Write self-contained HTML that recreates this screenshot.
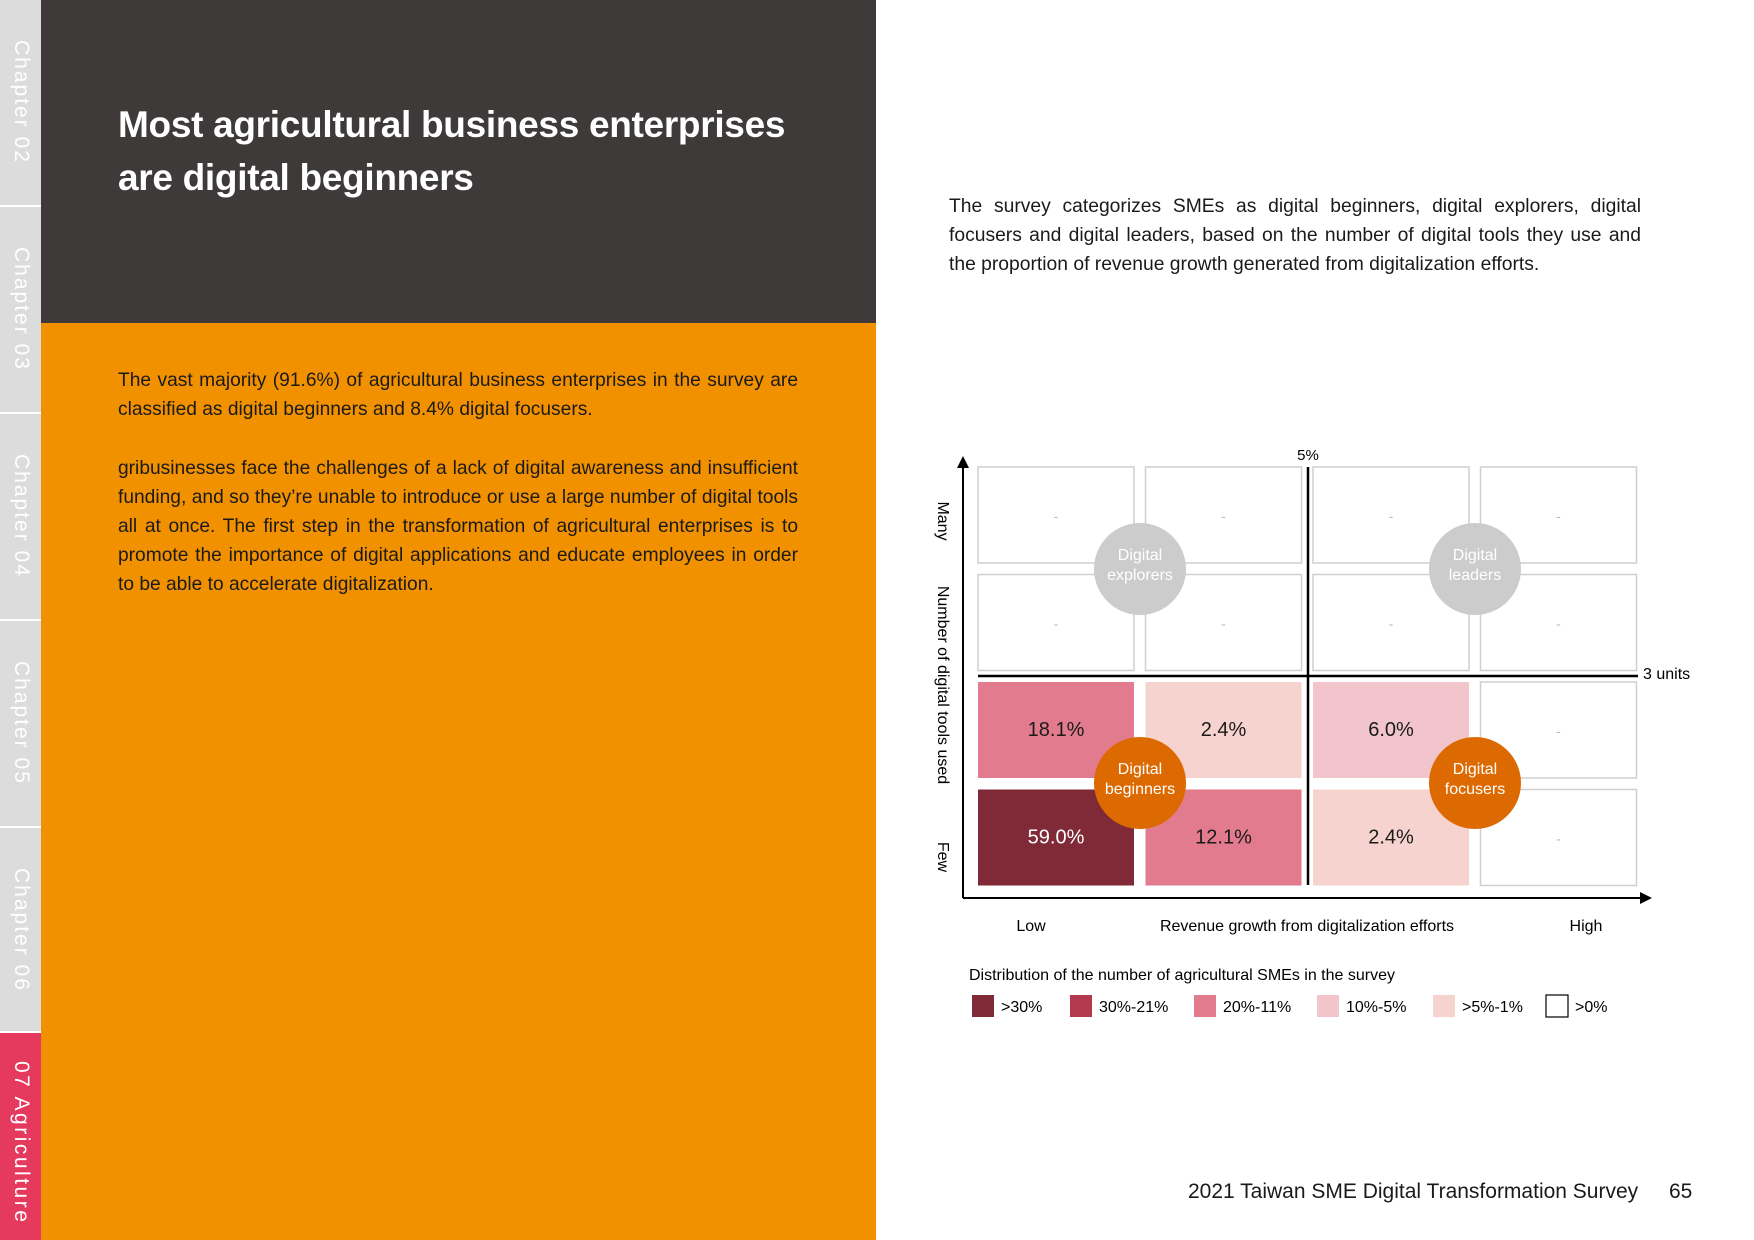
<!DOCTYPE html>
<html><head><meta charset="utf-8">
<style>
*{margin:0;padding:0;box-sizing:border-box}
body{width:1754px;height:1240px;position:relative;overflow:hidden;background:#fff;font-family:"Liberation Sans",sans-serif;color:#1a1a1a}
.abs{position:absolute}
.strip{left:0;top:0;width:41px;height:1240px;background:#dcdcdc}
.tab{position:absolute;left:0;width:41px;border-bottom:2px solid #fff}
.tab span{position:absolute;left:9px;top:40px;writing-mode:vertical-rl;color:#fff;font-size:21px;letter-spacing:2px;white-space:nowrap}
.p{font-size:19.2px;line-height:29px;text-align:justify}
</style></head><body>
<div class="abs strip">
 <div class="tab" style="top:0;height:207px"><span>Chapter 02</span></div>
 <div class="tab" style="top:207px;height:207px"><span>Chapter 03</span></div>
 <div class="tab" style="top:414px;height:207px"><span>Chapter 04</span></div>
 <div class="tab" style="top:621px;height:207px"><span>Chapter 05</span></div>
 <div class="tab" style="top:828px;height:205px"><span>Chapter 06</span></div>
 <div class="tab" style="top:1033px;height:207px;background:#e53a5e;border:none"><span style="top:28px;letter-spacing:2.5px">07 Agriculture</span></div>
</div>
<div class="abs" style="left:41px;top:0;width:835px;height:323px;background:#3d3a39">
 <div class="abs" style="left:77px;top:98px;color:#fff;font-weight:bold;font-size:37px;letter-spacing:-0.3px;line-height:53px">Most agricultural business enterprises<br>are digital beginners</div>
</div>
<div class="abs" style="left:41px;top:323px;width:835px;height:917px;background:#f29100">
 <div class="abs p" style="left:77px;top:43px;width:680px">The vast majority (91.6%) of agricultural business enterprises in the survey are classified as digital beginners and 8.4% digital focusers.</div>
 <div class="abs p" style="left:77px;top:131px;width:680px">gribusinesses face the challenges of a lack of digital awareness and insufficient funding, and so they’re unable to introduce or use a large number of digital tools all at once. The first step in the transformation of agricultural enterprises is to promote the importance of digital applications and educate employees in order to be able to accelerate digitalization.</div>
</div>
<div class="abs p" style="left:949px;top:192px;width:692px;font-size:19.3px">The survey categorizes SMEs as digital beginners, digital explorers, digital focusers and digital leaders, based on the number of digital tools they use and the proportion of revenue growth generated from digitalization efforts.</div>

<svg class="abs" style="left:0;top:0" width="1754" height="1240" id="chart"></svg>

<div class="abs" style="left:1188px;top:1180px;font-size:21px">2021 Taiwan SME Digital Transformation Survey</div>
<div class="abs" style="left:1669px;top:1180px;font-size:21px">65</div>

<script>
// rows top (Many) to bottom (Few), cols Low to High; null = no data
const rowLabels = ["r1","r2","r3","r4"];
const colLabels = ["c1","c2","c3","c4"];
const cellValues = [
 [null,null,null,null],
 [null,null,null,null],
 [18.1,2.4,6.0,null],
 [59.0,12.1,2.4,null]
];
const legendLabels = [">30%","30%-21%","20%-11%","10%-5%",">5%-1%",">0%"];
const legendColors = ["#7f2a36","#b33a4e","#e27b8e","#f2c5cc","#f7d3cf","#ffffff"];
const groupNames = [["Digital","explorers"],["Digital","leaders"],["Digital","beginners"],["Digital","focusers"]];

const NS="http://www.w3.org/2000/svg";
const svg=document.getElementById('chart');
function mk(t,a,txt){const e=document.createElementNS(NS,t);for(const k in a)e.setAttribute(k,a[k]);if(txt!==undefined)e.textContent=txt;svg.appendChild(e);return e;}
const x0=978,cw=156,cg=167.5,y0=467,rh=96,rg=107.5;
const xs=i=>x0+i*cg, ys=j=>y0+j*rg;
function colorFor(v){if(v==null)return null;if(v>30)return legendColors[0];if(v>=21)return legendColors[1];if(v>=11)return legendColors[2];if(v>=5)return legendColors[3];if(v>0)return legendColors[4];return legendColors[5];}
const F='"Liberation Sans",sans-serif';
cellValues.forEach((row,j)=>row.forEach((v,i)=>{
 const c=colorFor(v);
 const r=mk('rect',{x:xs(i),y:ys(j),width:cw,height:rh,fill:c||'#fff',stroke:c?'none':'#cfcfcf','stroke-width':1.5});
 
 
 const t=mk('text',{x:xs(i)+cw/2,y:ys(j)+rh/2+6,'text-anchor':'middle','font-family':F,'font-size':v==null?14:20,fill:v==null?'#bbb':(v>30?'#fff':'#1a1a1a')},v==null?'-':v.toFixed(1)+'%');
 
 
}));
mk('line',{x1:1308,y1:467,x2:1308,y2:885,stroke:'#000','stroke-width':2.5});
mk('line',{x1:978,y1:676,x2:1638,y2:676,stroke:'#000','stroke-width':2.5});
mk('text',{x:1308,y:460,'text-anchor':'middle','font-family':F,'font-size':15},'5%');
mk('text',{x:1643,y:679,'font-family':F,'font-size':16},'3 units');
mk('line',{x1:963,y1:462,x2:963,y2:898,stroke:'#000','stroke-width':2});
mk('polygon',{points:'957,468 963,456 969,468',fill:'#000'});
mk('line',{x1:963,y1:898,x2:1644,y2:898,stroke:'#000','stroke-width':2});
mk('polygon',{points:'1640,892 1652,898 1640,904',fill:'#000'});
[[1031,'Low'],[1307,'Revenue growth from digitalization efforts'],[1586,'High']].forEach(a=>{const t=mk('text',{x:a[0],y:931,'text-anchor':'middle','font-family':F,'font-size':16},a[1]);});
[[521,'Many'],[685,'Number of digital tools used'],[857,'Few']].forEach(a=>{const t=mk('text',{x:938,y:a[0],'text-anchor':'middle','font-family':F,'font-size':16,transform:'rotate(90 938 '+a[0]+')'},a[1]);});
const cc=[[1140,569,'#cccccc'],[1475,569,'#cccccc'],[1140,783,'#dd6a00'],[1475,783,'#dd6a00']];
cc.forEach((c,k)=>{
 const e=mk('circle',{cx:c[0],cy:c[1],r:46,fill:c[2]});
 
 
 mk('text',{x:c[0],y:c[1]-9,'text-anchor':'middle','font-family':F,'font-size':16,fill:'#fff'},groupNames[k][0]);
 mk('text',{x:c[0],y:c[1]+11,'text-anchor':'middle','font-family':F,'font-size':16,fill:'#fff'},groupNames[k][1]);
});
mk('text',{x:969,y:980,'font-family':F,'font-size':16},'Distribution of the number of agricultural SMEs in the survey');
const lx=[972,1070,1194,1317,1433,1546];
legendLabels.forEach((l,k)=>{
 const r=mk('rect',{x:lx[k],y:995,width:22,height:22,fill:legendColors[k],stroke:k==5?'#000':'none','stroke-width':1.2});
 
 
 const t=mk('text',{x:lx[k]+29,y:1012,'font-family':F,'font-size':16},l);
 
 
});
</script>
</body></html>
